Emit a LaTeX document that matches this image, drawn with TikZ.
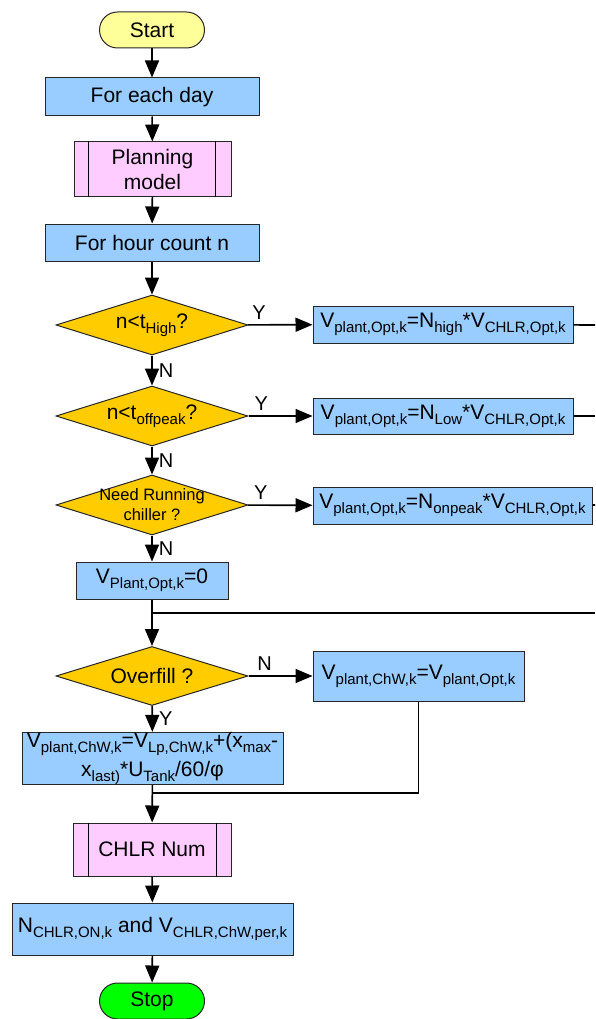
\documentclass[tikz,border=0pt]{standalone}
\usepackage{fontspec}
\setmainfont{Liberation Sans}
\usepackage{tikz}
\usetikzlibrary{arrows.meta,shapes.geometric}
\usepackage{xcolor}
\definecolor{boxblue}{HTML}{99CCFF}
\definecolor{decgold}{HTML}{FFCC00}
\definecolor{subpink}{HTML}{FFCCFF}
\definecolor{startyel}{HTML}{FFFF99}
\definecolor{stopgrn}{HTML}{00FF00}
\newcommand{\sbt}[1]{\raisebox{-5pt}{\fontsize{15}{15}\selectfont #1}}

\begin{document}
\begin{tikzpicture}[x=1pt,y=-1pt,font=\fontsize{21}{25}\selectfont,
  box/.style={draw=black!85,line width=1pt,fill=boxblue,inner sep=0pt,align=center},
  proc/.style={draw=black!85,line width=1pt,fill=subpink,inner sep=0pt,align=center},
  term/.style={draw=black!85,line width=1pt,rounded corners=18pt,inner sep=0pt},
  decision/.style={diamond,draw=black!85,line width=1pt,fill=decgold,inner sep=0pt,aspect=3.2,minimum width=192pt,minimum height=60pt},
  flow/.style={line width=1.6pt,-{Triangle[length=17pt,width=14pt]}},
  wire/.style={line width=1.6pt},
  yn/.style={font=\fontsize{20}{24}\selectfont,inner sep=0pt}]
\useasboundingbox (0,0) rectangle (595,1019);

% main column
\node[term,fill=startyel,minimum width=105pt,minimum height=36pt] (start) at (152,30) {Start};
\node[box,minimum width=214pt,minimum height=38pt] (day) at (152,97) {For each day};
\node[proc,minimum width=157pt,minimum height=54pt] (plan) at (152.5,169) {Planning\\model};
\node[box,minimum width=214pt,minimum height=37pt] (hour) at (152,242.5) {For hour count n};
\node[decision] (dhigh) at (152,325) {n<t\sbt{High}?};
\node[decision] (doff) at (152,416) {n<t\sbt{offpeak}?};
\node[decision,label={[align=center,font=\fontsize{16.5}{20}\selectfont]center:{Need Running\\chiller ?}}] (dneed) at (152,505) {};
\node[box,minimum width=152pt,minimum height=37pt] (vzero) at (152,580.5) {V\sbt{Plant,Opt,k}=0};
\node[decision,minimum height=59pt] (dover) at (152,676) {Overfill ?};
\node[box,minimum width=261pt,minimum height=51pt,font=\fontsize{21}{29}\selectfont] (vfill) at (152.5,758.5)
  {V\sbt{plant,ChW,k}=V\sbt{Lp,ChW,k}+(x\sbt{max}-\\x\sbt{last)}*U\sbt{Tank}/60/φ};
\node[proc,minimum width=158pt,minimum height=53pt] (chlr) at (152,849.5) {CHLR Num};
\node[box,minimum width=281pt,minimum height=52pt] (nchlr) at (152.5,929) {N\sbt{CHLR,ON,k} and V\sbt{CHLR,ChW,per,k}};
\node[term,fill=stopgrn,minimum width=105pt,minimum height=36pt] (stop) at (152,1001) {Stop};

% side boxes
\node[box,minimum width=260pt,minimum height=37pt] (vhigh) at (443,324.5) {V\sbt{plant,Opt,k}=N\sbt{high}*V\sbt{CHLR,Opt,k}};
\node[box,minimum width=260pt,minimum height=36pt] (vlow) at (443,416) {V\sbt{plant,Opt,k}=N\sbt{Low}*V\sbt{CHLR,Opt,k}};
\node[box,minimum width=279pt,minimum height=37pt] (von) at (452.5,505.5) {V\sbt{plant,Opt,k}=N\sbt{onpeak}*V\sbt{CHLR,Opt,k}};
\node[box,minimum width=211pt,minimum height=50pt] (vchw) at (418.5,676) {V\sbt{plant,ChW,k}=V\sbt{plant,Opt,k}};

% inner bars of the sub-process boxes
\draw[line width=1pt] ([xshift=15pt]plan.north west) -- ([xshift=15pt]plan.south west);
\draw[line width=1pt] ([xshift=-16pt]plan.north east) -- ([xshift=-16pt]plan.south east);
\draw[line width=1pt] ([xshift=16pt]chlr.north west) -- ([xshift=16pt]chlr.south west);
\draw[line width=1pt] ([xshift=-15pt]chlr.north east) -- ([xshift=-15pt]chlr.south east);

\coordinate (rim1) at (595,325);
\coordinate (rim2) at (595,416);
\coordinate (rim3) at (595,505);
\coordinate (merge) at (152,613);
\coordinate (rim4) at (595,613);
\coordinate (join) at (152,793);

% connectors
\draw[flow] (start) -- (day);
\draw[flow] (day) -- (plan);
\draw[flow] (plan) -- (hour);
\draw[flow] (hour) -- (dhigh);
\draw[flow] (dhigh) -- node[yn,right=6pt]{N} (doff);
\draw[flow] (doff) -- node[yn,right=6pt]{N} (dneed);
\draw[flow] (dneed) -- node[yn,right=6pt]{N} (vzero);
\draw[flow] (dhigh) -- node[yn,pos=0.17,above=5pt]{Y} (vhigh);
\draw[flow] (doff) -- node[yn,pos=0.2,above=5pt]{Y} (vlow);
\draw[flow] (dneed) -- node[yn,pos=0.2,above=5pt]{Y} (von);
\draw[wire] (vhigh) -- (rim1);
\draw[wire] (vlow) -- (rim2);
\draw[wire] (von) -- (rim3);
\draw[line width=2.6pt] (merge) -- (rim4);
\draw[flow] (vzero) -- (dover);
\draw[flow] (dover) -- node[yn,pos=0.25,above=5pt]{N} (vchw);
\draw[flow] (dover) -- node[yn,right=6pt]{Y} (vfill);
\draw[flow] (vfill) -- (chlr);
\draw[wire] (vchw) |- (join);
\draw[flow] (chlr) -- (nchlr);
\draw[flow] (nchlr) -- (stop);
\end{tikzpicture}
\end{document}
